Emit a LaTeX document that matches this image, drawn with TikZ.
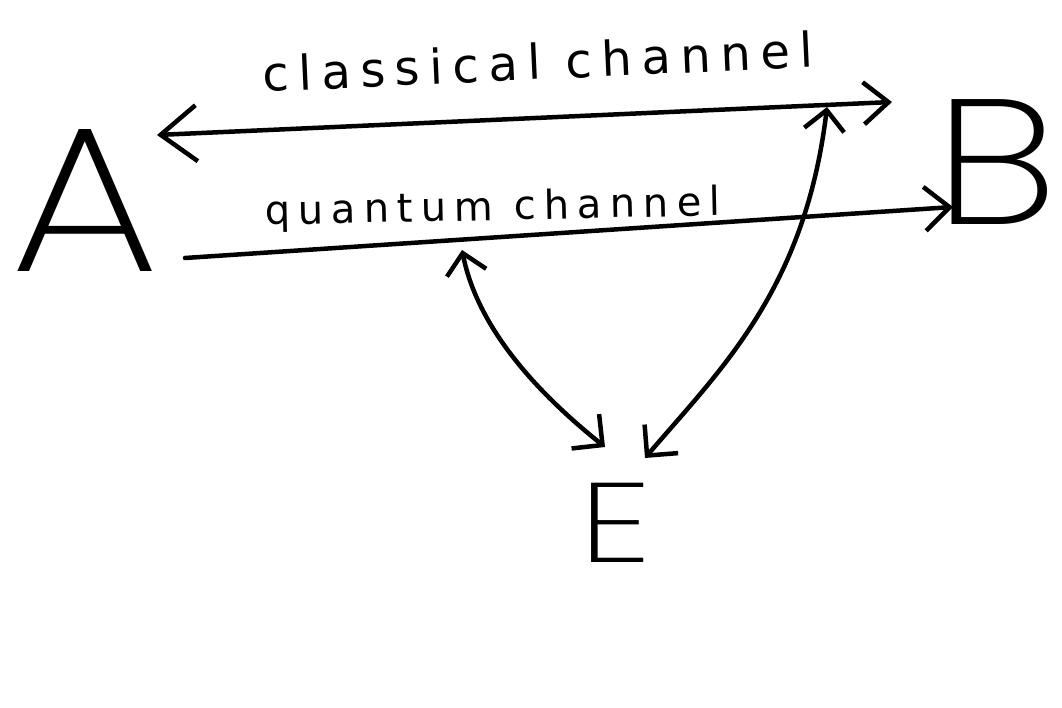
\documentclass[tikz,border=0pt]{standalone}
\usepackage{fontspec}
\usepackage{graphicx}
\usetikzlibrary{arrows.meta}
\newfontfamily\handfont{DejaVu Sans}[LetterSpace=20]
\newfontfamily\handfontq{DejaVu Sans}[LetterSpace=20]
\IfFontExistsTF{Poppins ExtraLight}{\newfontfamily\bigfont{Poppins ExtraLight}}{%
  \IfFontExistsTF{Poppins Thin}{\newfontfamily\bigfont{Poppins Thin}}{%
    \newfontfamily\bigfont{DejaVu Sans}}}
\tikzset{
  ink/.style={line width=4.5pt, line cap=round, line join=round, black},
  letter/.style={inner sep=0pt, anchor=base, text=black},
  label/.style={inner sep=0pt, anchor=base west, text=black}
}
\begin{document}
\begin{tikzpicture}[x=1pt,y=1pt]
\fill[white] (0,0) rectangle (1062,707);
\useasboundingbox (0,0) rectangle (1062,707);

% letters
\node[letter, font=\bigfont\fontsize{207}{207}\selectfont] (A) at (85,435) {\scalebox{1.15}[1]{A}};
\node[letter, font=\bigfont\fontsize{178}{178}\selectfont] (B) at (996,482) {\scalebox{1.2}[1]{B}};
\node[letter, font=\bigfont\fontsize{113}{113}\selectfont] (E) at (616,145) {\scalebox{1.3}[1]{E}};

% labels
\node[label, rotate=2.6, font=\handfont\fontsize{48}{48}\selectfont] (lblC) at (263,615) {classical channel};
\node[label, rotate=1.2, font=\handfontq\fontsize{40}{40}\selectfont] (lblQ) at (265,482) {quantum channel};

% connector end points
\coordinate (clL) at (157,572);
\coordinate (clR) at (892,605);
\coordinate (qL) at (185,449);
\coordinate (qR) at (953,500);
\coordinate (tapQ) at (462,457);
\coordinate (tapC) at (827,600);
\coordinate (eL) at (605,260);
\coordinate (eR) at (645,249);

% channels
\draw[ink, {Straight Barb[length=36pt,width=56pt]}-{Straight Barb[length=25pt,width=42pt]}] (clL) -- (clR);
\draw[ink, -{Straight Barb[length=25pt,width=44pt]}] (qL) -- (qR);

% Eve
\draw[ink, {Straight Barb[length=20pt,width=40pt]}-{Straight Barb[length=22pt,width=44pt]}]
  (tapQ) .. controls (478,377) and (540,312) .. (eL);
\draw[ink, {Straight Barb[length=20pt,width=40pt]}-{Straight Barb[length=22pt,width=44pt]}]
  (tapC) .. controls (805,417) and (720,337) .. (eR);
\end{tikzpicture}
\end{document}
